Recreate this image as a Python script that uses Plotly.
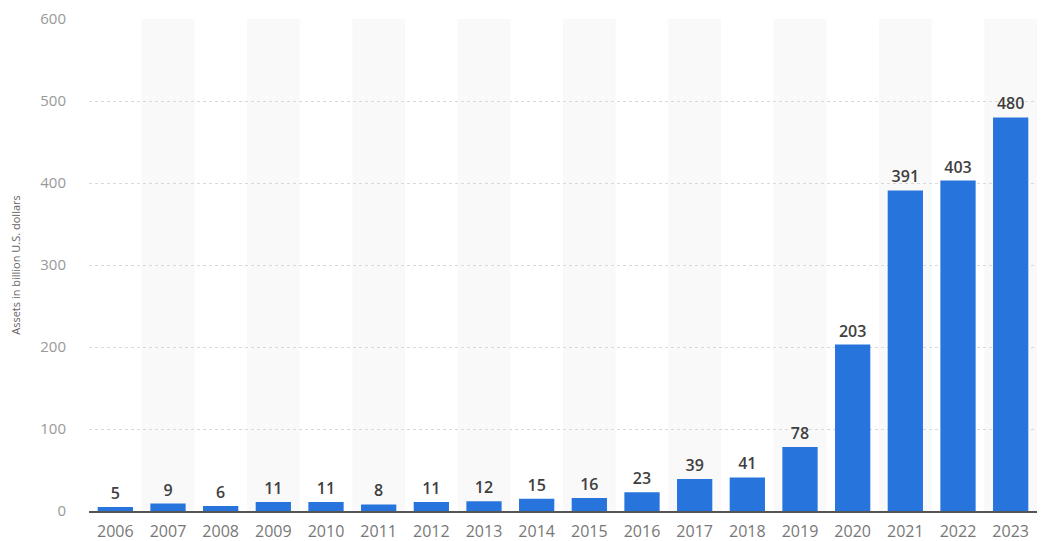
import plotly.graph_objects as go

years = ["2006","2007","2008","2009","2010","2011","2012","2013","2014","2015",
         "2016","2017","2018","2019","2020","2021","2022","2023"]
assets = [5, 9, 6, 11, 11, 8, 11, 12, 15, 16, 23, 39, 41, 78, 203, 391, 403, 480]
y_ticks = [0, 100, 200, 300, 400, 500, 600]

fig = go.Figure()
fig.add_trace(go.Bar(
    x=years, y=assets,
    marker=dict(color="#2874dd", line=dict(width=0)),
    text=[str(v) for v in assets], textposition="outside",
    textfont=dict(family="Open Sans", size=16, color="#3f3f3f", weight=600),
    cliponaxis=False,
))

shapes = []
for i in range(1, len(years), 2):
    shapes.append(dict(type="rect", xref="x", yref="y", x0=i-0.5, x1=i+0.5, y0=0, y1=600,
                       fillcolor="#f9f9f9", line=dict(width=0), layer="below"))
fig.update_layout(
    shapes=shapes,
    width=1029, height=533,
    margin=dict(l=81, r=0, t=11, b=30),
    paper_bgcolor="white", plot_bgcolor="white",
    bargap=0.33,
    showlegend=False,
    font=dict(family="Open Sans", color="#888888"),
    xaxis=dict(type="category", showgrid=False, showline=True, linecolor="#555555", linewidth=1.5,
               tickfont=dict(size=16, color="#777777"), ticks="", range=[-0.5, 17.5],
               ticklabelstandoff=5, automargin=False),
    yaxis=dict(range=[0, 600], tickvals=y_ticks, showgrid=True, gridcolor="#d9d9d9", griddash="dot",
               gridwidth=1, zeroline=False, tickfont=dict(size=15, color="#999999"), ticks="",
               ticklabelstandoff=22, automargin=False,
               title=dict(text="Assets in billion U.S. dollars", font=dict(size=11, color="#666666"),
                          standoff=22)),
)
fig.write_html("out.html")
